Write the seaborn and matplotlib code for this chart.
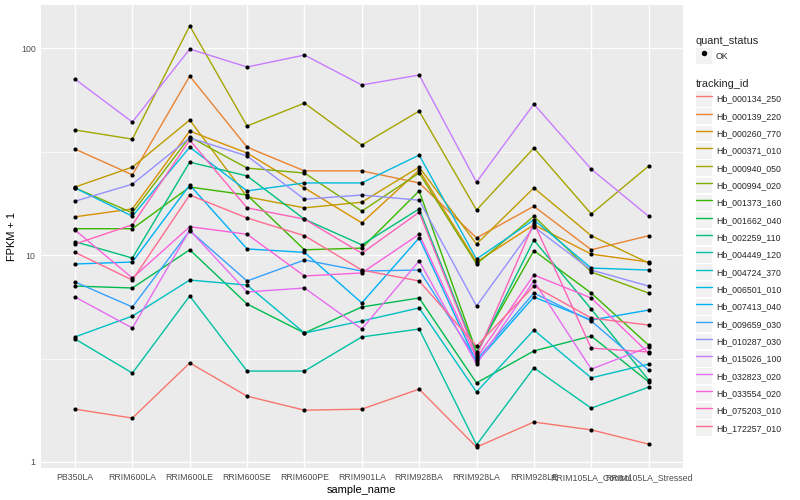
import matplotlib
matplotlib.use("Agg")
import numpy as np
import pandas as pd
import seaborn as sns
import matplotlib.pyplot as plt
from matplotlib.lines import Line2D
from matplotlib.patches import Rectangle
from matplotlib.legend_handler import HandlerTuple

# samples in plotting order
samples = ["PB350LA", "RRIM600LA", "RRIM600LE", "RRIM600SE", "RRIM600PE",
           "RRIM901LA", "RRIM928BA", "RRIM928LA", "RRIM928LE",
           "RRIM105LA_Control", "RRIM105LA_Stressed"]

tracking_ids = ["Hb_000134_250", "Hb_000139_220", "Hb_000260_770", "Hb_000371_010",
                "Hb_000940_050", "Hb_000994_020", "Hb_001373_160", "Hb_001662_040",
                "Hb_002259_110", "Hb_004449_120", "Hb_004724_370", "Hb_006501_010",
                "Hb_007413_040", "Hb_009659_030", "Hb_010287_030", "Hb_015026_100",
                "Hb_032823_020", "Hb_033554_020", "Hb_075203_010", "Hb_172257_010"]

# ggplot hue palette for 20 levels
hue_colors = ["#F8766D", "#EA8331", "#D89000", "#C09B00", "#A3A500", "#7CAE00",
              "#39B600", "#00BB4E", "#00BF7D", "#00C1A3", "#00BFC4", "#00BAE0",
              "#00B0F6", "#35A2FF", "#9590FF", "#C77CFF", "#E76BF3", "#FA62DB",
              "#FF62BC", "#FF6C91"]

# FPKM + 1 per gene, one value per sample
hb_000134_250 = [1.80, 1.63, 3.01, 2.08, 1.78, 1.80, 2.25, 1.18, 1.56, 1.43, 1.22]
hb_000139_220 = [32.5, 24.4, 73.2, 33.2, 25.5, 25.5, 22.3, 12.1, 17.2, 10.6, 12.4]
hb_000260_770 = [15.3, 16.7, 39.7, 31.1, 21.1, 14.3, 25.7, 9.25, 14.0, 10.1, 9.25]
hb_000371_010 = [21.3, 26.6, 44.9, 19.1, 16.9, 18.0, 26.6, 11.3, 21.1, 12.4, 9.15]
hb_000940_050 = [40.2, 36.3, 128.0, 42.0, 54.2, 34.0, 49.6, 16.5, 32.9, 15.8, 26.9]
hb_000994_020 = [21.1, 16.0, 37.2, 26.3, 24.9, 16.3, 24.9, 9.05, 15.4, 8.28, 6.55]
hb_001373_160 = [13.4, 13.4, 21.3, 19.5, 10.6, 10.8, 20.4, 3.40, 10.5, 6.55, 3.67]
hb_001662_040 = [7.08, 6.93, 10.6, 5.80, 4.20, 5.61, 6.20, 2.41, 3.44, 4.06, 2.44]
hb_002259_110 = [11.6, 9.67, 28.1, 24.1, 14.9, 11.2, 16.7, 3.32, 11.8, 5.48, 2.49]
hb_004449_120 = [3.93, 2.69, 6.34, 2.75, 2.75, 4.02, 4.39, 1.21, 2.85, 1.82, 2.30]
hb_004724_370 = [4.02, 5.07, 7.57, 7.16, 4.20, 4.80, 5.55, 2.18, 4.34, 2.55, 2.97]
hb_006501_010 = [21.1, 15.4, 33.2, 20.4, 22.3, 22.3, 30.4, 9.56, 14.8, 8.65, 8.46]
hb_007413_040 = [9.05, 9.25, 21.8, 10.7, 10.3, 5.87, 12.1, 3.04, 6.27, 4.85, 5.42]
hb_009659_030 = [7.41, 5.61, 13.1, 7.49, 9.46, 8.37, 8.46, 3.11, 6.55, 4.80, 2.78]
hb_010287_030 = [18.2, 22.0, 36.8, 30.1, 18.6, 19.5, 18.4, 5.67, 13.7, 8.46, 7.08]
hb_015026_100 = [70.8, 43.9, 98.9, 81.0, 92.5, 66.3, 74.1, 22.5, 53.6, 26.0, 15.4]
hb_032823_020 = [6.27, 4.44, 13.2, 6.63, 6.93, 4.39, 9.36, 2.97, 7.49, 2.81, 3.59]
hb_033554_020 = [13.2, 7.74, 13.7, 12.6, 7.92, 8.19, 12.6, 3.18, 8.01, 6.20, 3.36]
hb_075203_010 = [11.3, 14.0, 35.9, 16.9, 14.9, 10.2, 16.1, 3.25, 14.3, 3.55, 3.40]
hb_172257_010 = [10.3, 7.57, 19.5, 15.1, 12.4, 8.46, 7.49, 3.63, 7.08, 4.96, 4.59]

series = [hb_000134_250, hb_000139_220, hb_000260_770, hb_000371_010, hb_000940_050,
          hb_000994_020, hb_001373_160, hb_001662_040, hb_002259_110, hb_004449_120,
          hb_004724_370, hb_006501_010, hb_007413_040, hb_009659_030, hb_010287_030,
          hb_015026_100, hb_032823_020, hb_033554_020, hb_075203_010, hb_172257_010]

# long-form table for seaborn
rows = []
for tid, vals in zip(tracking_ids, series):
    for s, v in zip(samples, vals):
        rows.append({"tracking_id": tid, "sample_name": s, "fpkm": v, "quant_status": "OK"})
df = pd.DataFrame(rows)

sns.set_style("darkgrid", {"axes.facecolor": "#EBEBEB", "grid.color": "white"})
plt.rcParams["font.family"] = ["Liberation Sans", "DejaVu Sans"]

fig = plt.figure(figsize=(8, 5), dpi=100)
ax = fig.add_axes([40.6 / 800, 1 - 468 / 500, (683 - 40.6) / 800, (468 - 5) / 500])

sns.lineplot(data=df, x="sample_name", y="fpkm", hue="tracking_id",
             hue_order=tracking_ids, palette=hue_colors, estimator=None,
             sort=False, linewidth=1.0, legend=False, ax=ax)
sns.scatterplot(data=df, x="sample_name", y="fpkm", color="black", s=9,
                linewidth=0, legend=False, ax=ax, zorder=3)

ax.set_yscale("log")
ax.set_ylim(10 ** -0.029, 10 ** 2.208)
ax.set_xlim(-0.6, len(samples) - 0.4)
ax.set_yticks([1, 10, 100])
ax.set_yticklabels(["1", "10", "100"])
ax.set_yticks([10 ** 0.5, 10 ** 1.5], minor=True)
ax.set_xticks(range(len(samples)))
ax.set_xticklabels(samples)

ax.grid(False)
ax.grid(which="major", color="white", linewidth=1.0)
ax.grid(which="minor", axis="y", color="white", linewidth=0.5)
ax.set_axisbelow(True)
for sp in ax.spines.values():
    sp.set_visible(False)

ax.tick_params(axis="both", which="major", length=2, width=0.8, color="#333333",
               labelsize=6.34, labelcolor="#4D4D4D", pad=1.6)
ax.tick_params(axis="y", which="minor", length=0)
ax.set_xlabel("sample_name", fontsize=7.92, color="black", labelpad=2)
ax.set_ylabel("FPKM + 1", fontsize=7.92, color="black", labelpad=3)

# legends in ggplot style: grey key boxes with the line / point drawn on top
key_bg = lambda: Rectangle((0, 0), 1, 1, facecolor="#F2F2F2", edgecolor="none")
leg_kw = dict(handler_map={tuple: HandlerTuple(ndivide=1, pad=0)},
              loc="upper left", frameon=False, borderpad=0.45, borderaxespad=0,
              handlelength=1.8, handleheight=2.39, handletextpad=0.45,
              labelspacing=0.17, fontsize=6.34, title_fontsize=7.92,
              alignment="left")

status_handles = [(key_bg(), Line2D([], [], marker="o", color="black", linestyle="None",
                                    markersize=2.9))]
leg1 = fig.legend(status_handles, ["OK"], title="quant_status",
                  bbox_to_anchor=(692 / 800, 1 - 32.5 / 500), **leg_kw)

id_handles = [(key_bg(), Line2D([], [], color=c, linewidth=1.0)) for c in hue_colors]
leg2 = fig.legend(id_handles, tracking_ids, title="tracking_id",
                  bbox_to_anchor=(692 / 800, 1 - 75.5 / 500), **leg_kw)

fig.savefig("out.png", dpi=100, facecolor="white")
